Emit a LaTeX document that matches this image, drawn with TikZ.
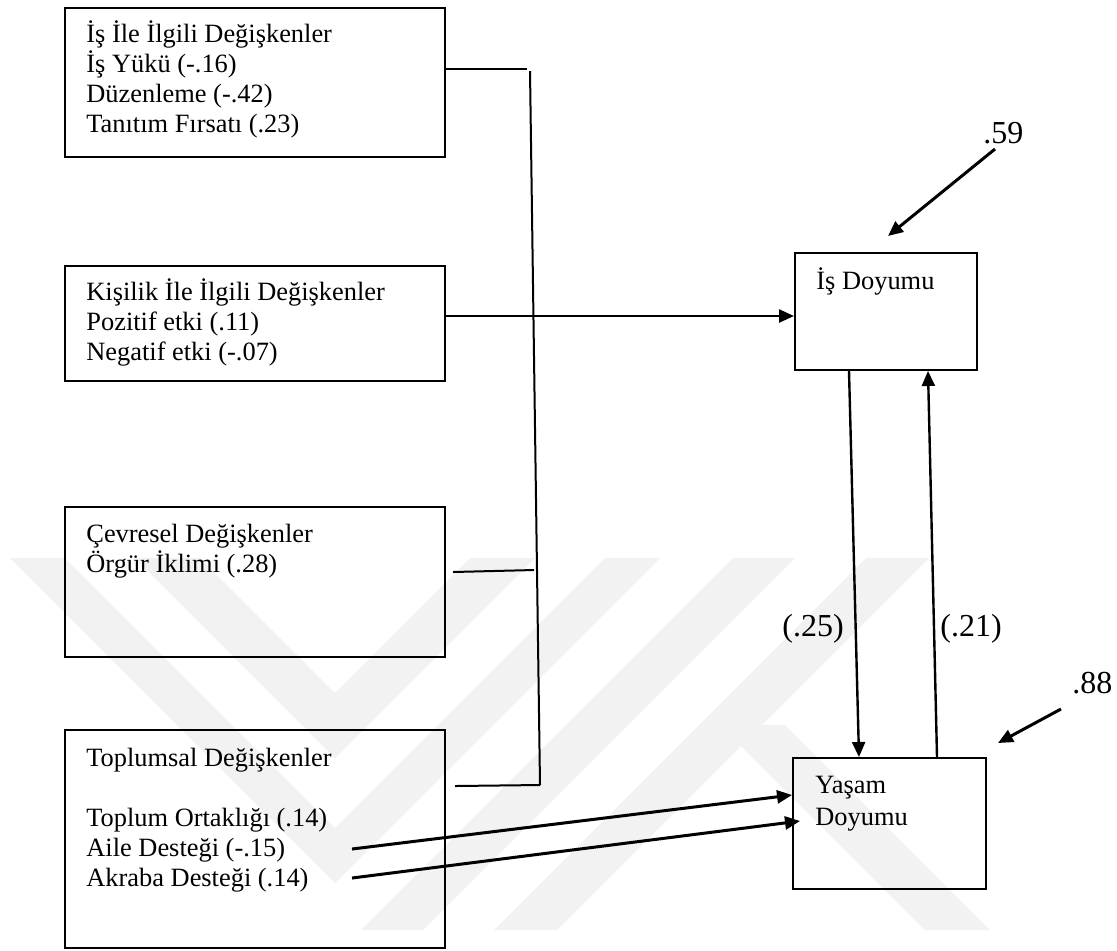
\documentclass[tikz,border=0pt]{standalone}
\usepackage{fontspec}
\setmainfont{Liberation Serif}
\usetikzlibrary{arrows.meta}
\begin{document}
\begin{tikzpicture}[x=0.5pt,y=-0.5pt,
  box/.style={draw, line width=1pt, rectangle, inner sep=0pt},
  lbl/.style={inner sep=0pt, font=\fontsize{13.2}{15}\selectfont},
  big/.style={inner sep=0pt, font=\fontsize{16}{18}\selectfont},
  thinln/.style={line width=1pt},
  arr/.style={line width=1.2pt, -{Triangle[length=7.5pt,width=6.5pt]}},
  arrb/.style={line width=1.5pt, -{Triangle[length=7.5pt,width=6.5pt]}},
  wm/.style={fill=black!5, draw=none}]
\path[use as bounding box] (0,0) rectangle (1117,950);

% faint watermark
\fill[wm] (10,558) -- (65,558) -- (335,828) -- (605,558) -- (660,558) -- (335,883) -- cycle;
\fill[wm] (135,558) -- (200,558) -- (335,693) -- (470,558) -- (535,558) -- (335,758) -- cycle;
\fill[wm] (733,558) -- (795,558) -- (423,930) -- (361,930) -- cycle;
\fill[wm] (866,558) -- (929,558) -- (557,930) -- (494,930) -- cycle;
\fill[wm] (720,725) -- (785,725) -- (990,930) -- (925,930) -- cycle;

% boxes
\node[box, minimum width=190pt, minimum height=74.5pt] (b1) at (255,82.5) {};
\node[box, minimum width=190pt, minimum height=57.5pt] (b2) at (255,323.5) {};
\node[box, minimum width=190pt, minimum height=75pt] (b3) at (255,582) {};
\node[box, minimum width=190pt, minimum height=109pt] (b4) at (255,839) {};
\node[box, minimum width=91pt, minimum height=58.5pt] (b5) at (886,311.5) {};
\node[box, minimum width=96.5pt, minimum height=65.5pt] (b6) at (889.5,823.5) {};

% texts
\node[lbl, anchor=base west] (t1) at (86,42) {\begin{tabular}[t]{@{}l@{}}İş İle İlgili Değişkenler\\İş Yükü (-.16)\\Düzenleme (-.42)\\Tanıtım Fırsatı (.23)\end{tabular}};
\node[lbl, anchor=base west] (t2) at (86,300) {\begin{tabular}[t]{@{}l@{}}Kişilik İle İlgili Değişkenler\\Pozitif etki (.11)\\Negatif etki (-.07)\end{tabular}};
\node[lbl, anchor=base west] (t3) at (86,542) {\begin{tabular}[t]{@{}l@{}}Çevresel Değişkenler\\Örgür İklimi (.28)\end{tabular}};
\node[lbl, anchor=base west] (t4) at (86,766) {\begin{tabular}[t]{@{}l@{}}Toplumsal Değişkenler\\ \\Toplum Ortaklığı (.14)\\Aile Desteği (-.15)\\Akraba Desteği (.14)\end{tabular}};
\node[lbl, anchor=base west] (t5) at (816,289) {İş Doyumu};
\node[lbl, anchor=base west, font=\fontsize{13.2}{16}\selectfont] (t6) at (815,793) {\begin{tabular}[t]{@{}l@{}}Yaşam\\Doyumu\end{tabular}};
\node[big, anchor=base west] (l59) at (983,143) {.59};
\node[big, anchor=base west] (l88) at (1072,693) {.88};
\node[big, anchor=base west] (l25) at (782,636) {(.25)};
\node[big, anchor=base west] (l21) at (940,636) {(.21)};

% bus lines
\coordinate (bt) at (530,71);
\coordinate (bb) at (540,785);
\draw[thinln] (bt) -- (bb);
\coordinate (c1b) at (527,69);
\draw[thinln] (b1.east |- c1b) -- (c1b);
\coordinate (j2) at (530,316);
\draw[thinln] (b2.east |- j2) -- (j2);
\draw[arr] (j2) -- (b5.west |- j2);
\coordinate (c3a) at (453,572);
\coordinate (c3b) at (534,570);
\draw[thinln] (c3a) -- (c3b);
\coordinate (c4a) at (455,786);
\coordinate (c4b) at (540,785);
\draw[thinln] (c4a) -- (c4b);

% social arrows
\coordinate (a1) at (352,849);
\coordinate (a1t) at (795,795);
\draw[arrb] (a1) -- (b6.west |- a1t);
\coordinate (a2) at (352,878);
\coordinate (a2t) at (800,821);
\draw[arrb] (a2) -- (a2t);

% reciprocal arrows
\coordinate (d1) at (849,0);
\coordinate (d2) at (859,0);
\draw[arr] (b5.south -| d1) -- (b6.north -| d2);
\coordinate (u1) at (937,0);
\coordinate (u2) at (928,0);
\draw[arr] (b6.north -| u1) -- (b5.south -| u2);

% residual arrows
\coordinate (e1) at (995,149);
\coordinate (e1t) at (888,236);
\draw[arrb] (e1) -- (e1t);
\coordinate (e2) at (1061,709);
\coordinate (e2t) at (998,743);
\draw[arrb] (e2) -- (e2t);
\end{tikzpicture}
\end{document}
